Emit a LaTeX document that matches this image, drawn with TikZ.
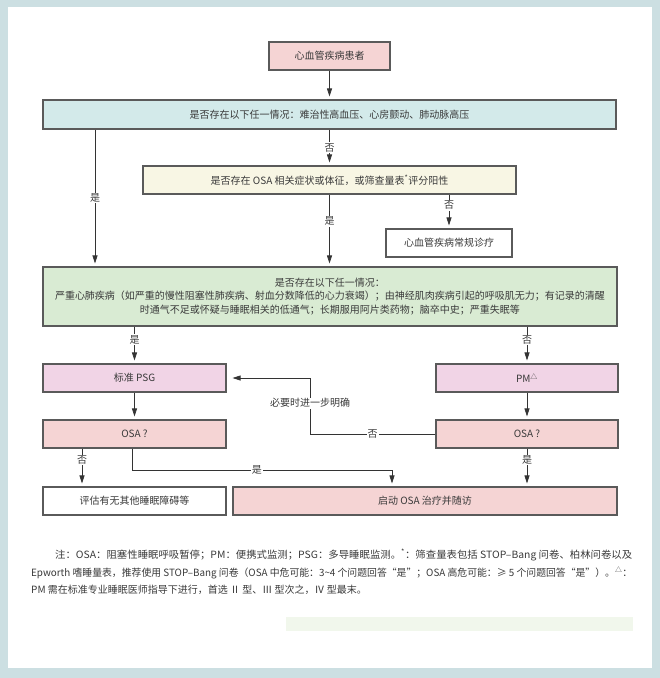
\documentclass[tikz,border=0pt]{standalone}
\usepackage{fontspec}
\usepackage{graphicx}
\setmainfont{Noto Sans CJK SC}
\usetikzlibrary{arrows.meta}
\definecolor{framecol}{HTML}{CCDFE2}
\definecolor{barcol}{HTML}{F1F7EC}
\definecolor{boxline}{HTML}{5A5A5A}
\definecolor{linecol}{HTML}{333333}
\definecolor{txt}{HTML}{3A3A3A}
\definecolor{cpink}{HTML}{F5D4D4}
\definecolor{ccyan}{HTML}{D3EAEA}
\definecolor{ccream}{HTML}{F8F6E4}
\definecolor{cgreen}{HTML}{D9EBD3}
\definecolor{clilac}{HTML}{F1D4E6}
\begin{document}
\begin{tikzpicture}[x=1pt,y=-1pt,
  box/.style={draw=boxline, line width=1.1pt, inner sep=0pt, minimum height=28pt, text=txt, font=\fontsize{10}{13.5}\selectfont, align=center},
  conn/.style={draw=linecol, line width=0.7pt},
  arr/.style={conn, -{Triangle[length=8pt,width=5pt]}, shorten >=3pt},
  lab/.style={fill=white, inner sep=1pt, text=txt, font=\fontsize{10}{12}\selectfont},
  note/.style={inner sep=0pt, text=txt, font=\fontsize{10}{12}\selectfont, anchor=west}]
% background
\fill[framecol] (0,0) rectangle (660,678);
\fill[white] (8,7) rectangle (652,668);
\fill[barcol] (286,617) rectangle (633,631);
% columns
\coordinate (cA) at (95,0);
\coordinate (cB) at (310,0);
\coordinate (cC) at (132,0);
\coordinate (cD) at (392,0);
\coordinate (cE) at (82,0);
\coordinate (cF) at (449,0);
\coordinate (yL) at (0,470);
% nodes
\node[box, fill=cpink, minimum width=121pt] (n1) at (329.5,56) {心血管疾病患者};
\node[box, fill=ccyan, minimum width=573pt, minimum height=29pt] (n2) at (329.5,114.5) {是否存在以下任一情况：难治性高血压、心房颤动、肺动脉高压};
\node[box, fill=ccream, minimum width=373pt] (n3) at (329.5,180) {是否存在 OSA 相关症状或体征，或筛查量表\textsuperscript{*}评分阳性};
\node[box, fill=white, minimum width=126pt] (n5) at (449,243) {心血管疾病常规诊疗};
\node[box, fill=cgreen, minimum width=574pt, minimum height=59pt] (n4) at (330,296.5) {是否存在以下任一情况：\\严重心肺疾病（如严重的慢性阻塞性肺疾病、射血分数降低的心力衰竭）；由神经肌肉疾病引起的呼吸肌无力；有记录的清醒\\时通气不足或怀疑与睡眠相关的低通气；长期服用阿片类药物；脑卒中史；严重失眠等};
\node[box, fill=clilac, minimum width=183pt] (psg) at (134.5,378) {标准 PSG};
\node[box, fill=clilac, minimum width=182pt] (pm) at (527,378) {PM\textsuperscript{△}};
\node[box, fill=cpink, minimum width=183pt] (osaL) at (134.5,434) {OSA ?};
\node[box, fill=cpink, minimum width=182pt] (osaR) at (527,434) {OSA ?};
\node[box, fill=white, minimum width=183pt] (eval) at (134.5,501) {评估有无其他睡眠障碍等};
\node[box, fill=cpink, minimum width=384pt] (start) at (425,501) {启动 OSA 治疗并随访};
% connectors
\draw[arr] (n1) -- (n2);
\draw[arr] (n2) -- node[lab]{否} (n3);
\draw[arr] (cA |- n2.south) -- node[lab]{是} (cA |- n4.north);
\draw[arr] (n3.south -| n1) -- node[lab,pos=.37]{是} (n4.north -| n1);
\draw[arr] (cF |- n3.south) -- node[lab,pos=.32]{否} (n5);
\draw[arr] (n4.south -| psg) -- node[lab,pos=.36]{是} (psg);
\draw[arr] (n4.south -| pm) -- node[lab,pos=.36]{否} (pm);
\draw[arr] (psg) -- (osaL);
\draw[arr] (pm) -- (osaR);
\draw[arr, shorten >=6pt] (osaR.west) -- node[lab]{否} (cB |- osaR.west) -- node[lab,pos=.55]{必要时进一步明确} (cB |- psg.east) -- (psg.east);
\draw[arr] (cE |- osaL.south) -- node[lab,pos=.3]{否} (cE |- eval.north);
\draw[arr] (cC |- osaL.south) -- (cC |- yL) -- node[lab,pos=.48]{是} (cD |- yL) -- (cD |- start.north);
\draw[arr] (osaR) -- node[lab,pos=.3]{是} (osaR |- start.north);
% notes
\node[note] (t1) at (55,555) {\resizebox{577pt}{\height}{注：OSA：阻塞性睡眠呼吸暂停；PM：便携式监测；PSG：多导睡眠监测。\textsuperscript{*}：筛查量表包括 STOP–Bang 问卷、柏林问卷以及}};
\node[note] (t2) at (31,573) {\resizebox{601pt}{\height}{Epworth 嗜睡量表，推荐使用 STOP–Bang 问卷（OSA 中危可能：3\char"007E 4 个问题回答“是”；OSA 高危可能：≥ 5 个问题回答“是”）。\textsuperscript{△}：}};
\node[note] (t3) at (31,590) {PM 需在标准专业睡眠医师指导下进行，首选 Ⅱ 型、Ⅲ 型次之，Ⅳ 型最末。};
\end{tikzpicture}
\end{document}
